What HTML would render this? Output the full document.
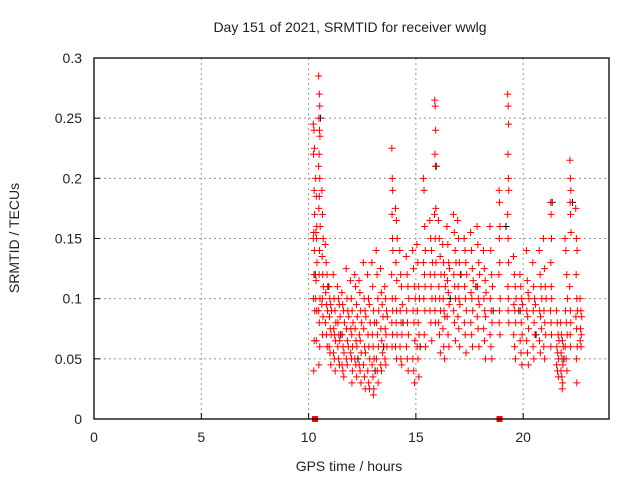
<!DOCTYPE html>
<html><head><meta charset="utf-8"><style>
body{margin:0;background:#fff;}
svg text{font-family:"Liberation Sans",sans-serif;font-size:14px;fill:#222;}
</style></head><body>
<svg id="chart" width="640" height="480" viewBox="0 0 640 480">
<text x="350" y="32" text-anchor="middle">Day 151 of 2021, SRMTID for receiver wwlg</text>
<g id="grid"></g>
<g id="ticks"></g>
<g id="black"></g>
<g id="red"></g>
<rect x="94" y="58" width="515" height="361" fill="none" stroke="#000" stroke-width="1.3"/>
<text x="349" y="471" text-anchor="middle">GPS time / hours</text>
<text transform="translate(19,238) rotate(-90)" text-anchor="middle">SRMTID / TECUs</text>
</svg>
<script>
const xTicks=[0,5,10,15,20];
const yTicks=[0,0.05,0.1,0.15,0.2,0.25,0.3];
const yTickLabels=["0","0.05","0.1","0.15","0.2","0.25","0.3"];
const markerTimes=[10.3,18.9];
const redTimes=[
10.22,10.25,10.27,10.23,10.26,10.28,10.24,10.22,10.27,10.25,10.23,10.29,10.26,10.24,
10.33,10.36,10.38,10.34,10.37,10.39,10.35,10.33,10.38,10.36,
10.47,10.5,10.52,10.48,10.51,10.53,10.49,10.47,10.52,10.5,10.48,10.54,10.51,10.49,10.53,10.47,10.5,10.52,10.48,
10.62,10.65,10.68,10.63,10.66,10.69,10.64,10.62,10.67,10.65,
10.78,10.82,10.86,10.8,10.84,10.88,10.79,10.83,10.87,
10.95,10.99,11.03,11.07,10.97,11.01,11.05,10.96,11.0,11.04,
11.15,11.19,11.23,11.27,11.17,11.21,11.25,11.16,11.2,11.24,
11.35,11.39,11.43,11.47,11.37,11.41,11.45,11.36,11.4,11.44,
11.55,11.59,11.63,11.67,11.57,11.61,11.65,11.56,11.6,11.64,
11.75,11.79,11.83,11.87,11.77,11.81,11.85,11.76,11.8,
11.95,11.99,12.03,12.07,11.97,12.01,12.05,11.96,12.0,12.04,12.02,
12.15,12.19,12.23,12.27,12.17,12.21,12.25,12.16,12.2,12.24,
12.35,12.39,12.43,12.47,12.37,12.41,12.45,12.36,12.4,12.44,
12.55,12.59,12.63,12.67,12.57,12.61,12.65,12.56,12.6,12.64,
12.75,12.79,12.83,12.87,12.77,12.81,12.85,12.76,12.8,12.84,
12.95,12.99,13.03,13.07,12.97,13.01,13.05,12.96,13.0,13.04,13.02,
13.15,13.19,13.23,13.27,13.17,13.21,13.25,13.16,13.2,13.24,
13.35,13.39,13.43,13.47,13.37,13.41,13.45,13.36,13.4,
13.55,13.59,13.63,13.67,13.57,13.61,13.65,13.56,13.6,
13.88,13.9,13.92,13.89,13.91,13.93,13.87,13.9,13.92,13.88,13.91,13.89,
14.05,14.09,14.13,14.07,14.11,14.06,14.1,14.08,14.12,14.05,14.1,
14.25,14.29,14.33,14.37,14.27,14.31,14.35,14.26,14.3,14.34,
14.55,14.59,14.63,14.67,14.57,14.61,14.65,14.56,14.6,14.64,
14.85,14.89,14.93,14.97,14.87,14.91,14.95,14.86,14.9,14.94,
15.05,15.09,15.13,15.17,15.07,15.11,15.15,15.06,15.1,15.14,
15.35,15.38,15.41,15.44,15.36,15.4,15.43,15.37,15.42,15.39,15.45,
15.65,15.69,15.73,15.77,15.67,15.71,15.75,15.66,15.7,15.74,
15.88,15.9,15.92,15.89,15.91,15.93,15.87,15.9,15.94,15.88,15.92,15.89,15.91,
16.05,16.09,16.13,16.17,16.07,16.11,16.15,16.06,16.1,16.14,
16.25,16.29,16.33,16.37,16.27,16.31,16.35,16.26,16.3,16.34,
16.45,16.49,16.53,16.57,16.47,16.51,16.55,16.46,16.5,16.54,
16.75,16.79,16.83,16.87,16.77,16.81,16.85,16.76,16.8,16.84,
16.95,16.99,17.03,17.07,16.97,17.01,17.05,16.96,17.0,17.04,
17.25,17.29,17.33,17.37,17.27,17.31,17.35,17.26,17.3,17.34,
17.55,17.59,17.63,17.67,17.57,17.61,17.65,17.56,17.6,17.64,
17.85,17.89,17.93,17.97,17.87,17.91,17.95,17.86,17.9,17.94,
18.15,18.19,18.23,18.27,18.17,18.21,18.25,18.16,18.2,18.24,
18.45,18.49,18.53,18.57,18.47,18.51,18.55,18.46,18.5,18.54,
18.88,18.9,18.92,18.89,18.91,18.87,18.93,18.9,18.88,18.92,
19.28,19.3,19.32,19.29,19.31,19.33,19.28,19.3,19.32,19.29,19.31,19.3,19.33,
19.55,19.59,19.63,19.67,19.57,19.61,19.65,19.56,19.6,19.64,
19.85,19.89,19.93,19.97,19.87,19.91,19.95,19.86,19.9,19.94,
20.15,20.19,20.23,20.27,20.17,20.21,20.25,20.16,20.2,20.24,
20.45,20.49,20.53,20.57,20.47,20.51,20.55,20.46,20.5,
20.75,20.79,20.83,20.87,20.77,20.81,20.85,20.76,20.8,
20.95,20.99,21.03,21.07,20.97,21.01,21.05,20.96,21.0,
21.28,21.3,21.32,21.29,21.31,21.33,21.27,21.3,21.32,21.29,
21.55,21.59,21.63,21.67,21.57,21.61,21.65,21.56,21.6,21.64,
21.75,21.79,21.83,21.87,21.77,21.81,21.85,21.76,21.8,21.84,21.82,
21.95,21.99,22.03,22.07,21.97,22.01,22.05,21.96,22.0,22.04,
22.18,22.2,22.22,22.19,22.21,22.23,22.17,22.2,22.22,22.19,22.21,
22.45,22.48,22.51,22.47,22.5,22.53,22.46,22.49,22.52,22.48,22.5,
22.65,22.69,22.73,22.67,22.71,22.66,22.7];
const redValues=[
.245,.24,.225,.22,.19,.17,.155,.15,.14,.12,.10,.09,.065,.04,
.2,.185,.16,.155,.15,.13,.115,.1,.09,.065,
.285,.27,.26,.25,.24,.235,.22,.21,.2,.185,.175,.16,.14,.12,.1,.09,.08,.06,.045,
.19,.17,.15,.135,.12,.11,.1,.095,.085,.07,
.145,.13,.12,.105,.095,.09,.08,.07,.06,
.11,.1,.095,.09,.085,.075,.07,.06,.055,.045,
.12,.1,.09,.08,.075,.07,.065,.055,.05,.04,
.11,.1,.095,.085,.08,.07,.065,.06,.05,.045,
.105,.095,.09,.08,.07,.06,.055,.045,.04,.035,
.125,.1,.09,.085,.075,.065,.06,.05,.045,
.115,.1,.09,.08,.075,.07,.06,.055,.05,.04,.03,
.12,.11,.095,.085,.075,.065,.06,.05,.045,.035,
.115,.105,.09,.08,.07,.065,.055,.045,.04,.03,
.13,.1,.09,.085,.075,.06,.055,.045,.035,.025,
.12,.1,.095,.08,.07,.06,.05,.04,.03,.025,
.13,.11,.09,.08,.07,.06,.05,.045,.035,.025,.02,
.14,.12,.1,.09,.08,.07,.06,.05,.04,.03,
.125,.105,.095,.085,.075,.065,.055,.045,.04,
.11,.1,.09,.085,.075,.07,.06,.05,.045,
.225,.2,.19,.17,.15,.14,.12,.1,.09,.08,.07,.06,
.175,.165,.15,.13,.115,.1,.09,.08,.07,.06,.05,
.14,.12,.11,.095,.09,.08,.07,.06,.05,.045,
.135,.12,.11,.1,.09,.08,.07,.06,.05,.04,
.14,.125,.11,.1,.09,.08,.065,.05,.04,.03,
.145,.13,.11,.1,.09,.08,.07,.06,.05,.035,
.2,.19,.16,.14,.13,.12,.11,.1,.09,.07,.06,
.165,.15,.14,.13,.12,.11,.1,.09,.08,.065,
.265,.26,.24,.22,.21,.175,.17,.15,.13,.12,.1,.09,.08,
.165,.15,.135,.12,.11,.1,.09,.08,.07,.055,
.145,.13,.12,.11,.1,.09,.085,.075,.06,.05,
.16,.145,.13,.125,.115,.105,.095,.085,.07,.06,
.17,.155,.14,.13,.12,.11,.1,.09,.08,.065,
.165,.15,.13,.12,.11,.1,.095,.085,.075,.06,
.15,.14,.13,.12,.11,.1,.09,.08,.07,.055,
.155,.14,.125,.115,.105,.1,.09,.08,.07,.06,
.16,.145,.13,.12,.11,.1,.095,.085,.075,.06,
.14,.125,.115,.105,.1,.09,.085,.075,.065,.05,
.16,.14,.12,.11,.1,.09,.08,.07,.06,.05,
.19,.18,.16,.15,.13,.12,.1,.09,.08,.07,
.27,.26,.245,.22,.2,.19,.17,.15,.13,.11,.1,.09,.08,
.135,.12,.11,.1,.095,.09,.08,.07,.06,.05,
.12,.11,.1,.095,.09,.08,.07,.065,.055,.045,
.14,.115,.105,.1,.09,.085,.075,.065,.055,.045,
.13,.11,.1,.095,.09,.08,.07,.06,.05,
.14,.12,.11,.1,.09,.085,.075,.065,.055,
.15,.125,.11,.1,.09,.08,.07,.06,.05,
.18,.17,.15,.13,.11,.1,.09,.08,.07,.06,
.09,.08,.07,.065,.06,.055,.05,.045,.04,.035,
.08,.07,.065,.06,.055,.05,.045,.04,.035,.03,.025,
.15,.14,.12,.1,.09,.08,.07,.06,.05,.04,
.215,.2,.19,.18,.17,.155,.11,.09,.08,.07,.06,
.175,.15,.14,.12,.1,.09,.085,.075,.06,.05,.03,
.1,.09,.085,.075,.07,.065,.06];
const blackTimes=[10.31,10.55,10.9,11.5,12.3,13.1,13.5,14.4,15.2,15.95,16.6,17.1,17.8,18.6,19.2,19.8,20.6,21.35,21.9,22.3];
const blackValues=[.12,.25,.11,.07,.05,.04,.06,.08,.06,.21,.1,.12,.11,.09,.16,.09,.07,.18,.05,.18];

const L=94,R=609,T=58,B=419,XMAX=24,YMAX=0.3;
const xs=v=>L+(R-L)*v/XMAX;
const ys=v=>B-(B-T)*v/YMAX;
const NS='http://www.w3.org/2000/svg';
function mk(tag,attrs,parent){const e=document.createElementNS(NS,tag);for(const k in attrs)e.setAttribute(k,attrs[k]);parent.appendChild(e);return e;}
const grid=document.getElementById('grid'),ticks=document.getElementById('ticks');
xTicks.forEach(v=>{
  const x=xs(v);
  if(v>0){const g=mk('line',{x1:x,x2:x,y1:T,y2:B,stroke:'#999','stroke-dasharray':'2,3','stroke-width':1},grid);
  
  }
  const t=mk('line',{x1:x,x2:x,y1:B,y2:B-6,stroke:'#000'},ticks);
  
  
  const lb=mk('text',{x:x,y:442,'text-anchor':'middle'},ticks);lb.textContent=String(v);
  
  
});
yTicks.forEach((v,i)=>{
  const y=ys(v);
  if(v>0&&v<YMAX){const g=mk('line',{x1:L,x2:R,y1:y,y2:y,stroke:'#999','stroke-dasharray':'2,3','stroke-width':1},grid);
  
  }
  const t=mk('line',{x1:L,x2:L+6,y1:y,y2:y,stroke:'#000'},ticks);
  
  
  const lb=mk('text',{x:82,y:y+5,'text-anchor':'end'},ticks);lb.textContent=yTickLabels[i];
  
  
});
function plus(g,t,v,color,name){
  const x=xs(t),y=ys(v);
  const p=mk('path',{d:`M${x-3.5},${y}h7M${x},${y-3.5}v7`,stroke:color,'stroke-width':1,fill:'none'},g);
  
  
}
const bg=document.getElementById('black'),rg=document.getElementById('red');
blackTimes.forEach((t,i)=>plus(bg,t,blackValues[i],'#000','black-point'));
redTimes.forEach((t,i)=>plus(rg,t,redValues[i],'#f00','red-point'));
markerTimes.forEach(t=>{
  const m=mk('rect',{x:xs(t)-3,y:B-3,width:6,height:6,fill:'#f00'},rg);
  
  
});
</script>
</body></html>
